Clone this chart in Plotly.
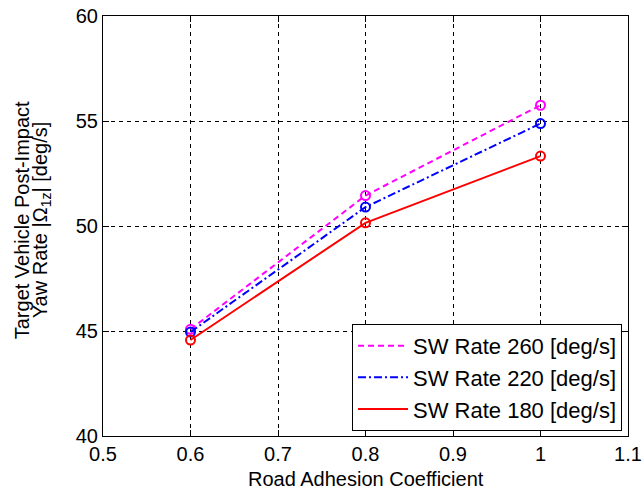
import plotly.graph_objects as go

x_vals = [0.6, 0.8, 1.0]
sw260 = [45.08, 51.45, 55.75]
sw220 = [44.95, 50.9, 54.88]
sw180 = [44.57, 50.15, 53.33]
series_names = ["SW Rate 260 [deg/s]", "SW Rate 220 [deg/s]", "SW Rate 180 [deg/s]"]
colors = ["#FF00FF", "#0000FF", "#FF0000"]
dashes = ["6px,4px", "8px,3px,2px,3px", "solid"]
x_ticks = [0.5, 0.6, 0.7, 0.8, 0.9, 1.0, 1.1]
x_ticktext = ["0.5", "0.6", "0.7", "0.8", "0.9", "1", "1.1"]
x_title = "Road Adhesion Coefficient"
y_title_1 = "Target Vehicle Post-Impact"
y_title_2 = "Yaw Rate |Ω<sub>1z</sub>| [deg/s]"

fig = go.Figure()
for i, (ys, name, c, d) in enumerate(zip([sw260, sw220, sw180], series_names, colors, dashes)):
    fig.add_trace(go.Scatter(
        x=x_vals, y=ys, name=name, mode="lines",
        line=dict(color=c, width=2, dash=d),
    ))
    fig.add_trace(go.Scatter(
        x=x_vals, y=ys, name=name, mode="markers", showlegend=False,
        marker=dict(symbol="circle-open", size=9, color=c, line=dict(width=2, color=c)),
    ))

fam = "Liberation Sans, Arial, sans-serif"
font = dict(family=fam, size=20, color="black")
axis_common = dict(
    showgrid=True, gridcolor="black", griddash="4px,4px", gridwidth=1,
    showline=True, linecolor="black", linewidth=1, mirror="ticks",
    ticks="inside", ticklen=6, tickcolor="black", zeroline=False,
    tickfont=font, automargin=False, ticklabeloverflow="allow",
)
fig.update_xaxes(range=[0.5, 1.1], tickvals=x_ticks, ticktext=x_ticktext, **axis_common)
fig.update_yaxes(range=[40, 60], dtick=5, **axis_common)

fig.update_layout(
    width=642, height=490,
    margin=dict(l=103, r=14, t=16, b=54),
    paper_bgcolor="white", plot_bgcolor="white",
    font=font,
    legend=dict(x=0.9886, y=0.012, xanchor="right", yanchor="bottom",
                bgcolor="white", bordercolor="black", borderwidth=1,
                font=dict(family=fam, size=22, color="black"),
                itemwidth=50, tracegroupgap=0),
    showlegend=True,
    annotations=[
        dict(text=x_title, xref="paper", yref="paper", x=0.5, y=-0.102,
             xanchor="center", yanchor="middle", showarrow=False, font=font),
        dict(text=y_title_1, xref="paper", yref="paper", x=(22 - 103) / 526, y=0.514,
             xanchor="center", yanchor="middle", showarrow=False, font=font, textangle=-90),
        dict(text=y_title_2, xref="paper", yref="paper", x=(41 - 103) / 526, y=0.514,
             xanchor="center", yanchor="middle", showarrow=False, font=font, textangle=-90),
    ],
)
fig.write_html("out.html", config={"displayModeBar": False},
               post_script="document.body.style.margin='0';")
